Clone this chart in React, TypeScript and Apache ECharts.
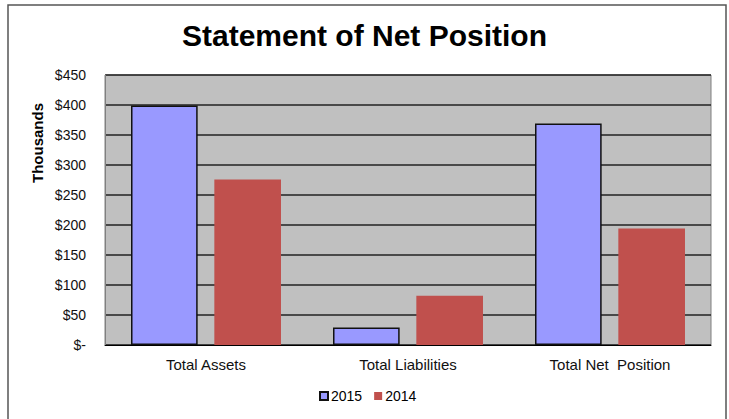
import React, { useEffect, useRef } from "react";
import * as echarts from "echarts";

const categories = ["Total Assets", "Total Liabilities", "Total Net  Position"];
const series2015 = [399, 29, 369];
const series2014 = [276, 82, 194];
const seriesNames = ["2015", "2014"];
const yMin = 0;
const yMax = 450;
const yInterval = 50;

export default function App() {
  const ref = useRef<HTMLDivElement>(null);
  useEffect(() => {
    if (!ref.current) return;
    const chart = echarts.init(ref.current, undefined, { renderer: "svg" });
    const font = "'Liberation Sans', Arial, sans-serif";
    chart.setOption({
      animation: false,
      backgroundColor: "#ffffff",
      title: {
        text: "Statement of Net Position",
        left: "center",
        top: 15,
        textStyle: { fontFamily: font, fontWeight: "bold", fontSize: 30, color: "#000" },
      },
      graphic: [
        {
          type: "rect",
          shape: { x: 8, y: 5, width: 718, height: 430 },
          style: { fill: "none", stroke: "#555", lineWidth: 1.5 },
          silent: true,
          z: 100,
        },
        {
          type: "text",
          x: 37,
          y: 143,
          rotation: Math.PI / 2,
          style: {
            text: "Thousands",
            fontFamily: font,
            fontWeight: "bold",
            fontSize: 15,
            fill: "#000",
            align: "center",
            verticalAlign: "middle",
          },
        },
      ],
      legend: {
        bottom: 11,
        left: 314,
        itemWidth: 8,
        itemHeight: 8,
        itemGap: 12,
        icon: "rect",
        textStyle: { fontFamily: font, fontSize: 14, color: "#000", padding: [0, 0, 0, -2] },
        data: seriesNames,
      },
      grid: { left: 105, right: 18, top: 75, bottom: 74, show: true, backgroundColor: "#C0C0C0", borderColor: "#808080", borderWidth: 1 },
      xAxis: {
        type: "category",
        data: categories,
        axisLine: { lineStyle: { color: "#000", width: 1 } },
        axisTick: { show: false },
        axisLabel: { fontFamily: font, fontSize: 15, color: "#111", margin: 12 },
      },
      yAxis: {
        type: "value",
        min: yMin,
        max: yMax,
        interval: yInterval,
        axisLine: { show: true, lineStyle: { color: "#808080" } },
        axisTick: { show: false },
        splitLine: { lineStyle: { color: "#222", width: 1.5 } },
        axisLabel: {
          fontFamily: font,
          fontSize: 14,
          color: "#111",
          margin: 19,
          formatter: (v: number) => (v === 0 ? "$-" : "$" + v),
        },
      },
      series: [
        {
          name: seriesNames[0],
          type: "bar",
          data: series2015,
          barWidth: "33%",
          barGap: "25%",
          itemStyle: { color: "#9999FF", borderColor: "#111", borderWidth: 1.5 },
        },
        {
          name: seriesNames[1],
          type: "bar",
          data: series2014,
          barWidth: "33%",
          barGap: "25%",
          itemStyle: { color: "#C0504D" },
        },
      ],
    });
    return () => chart.dispose();
  }, []);
  return <div ref={ref} style={{ position: "absolute", left: 0, top: 0, width: 729, height: 419 }} />;
}
